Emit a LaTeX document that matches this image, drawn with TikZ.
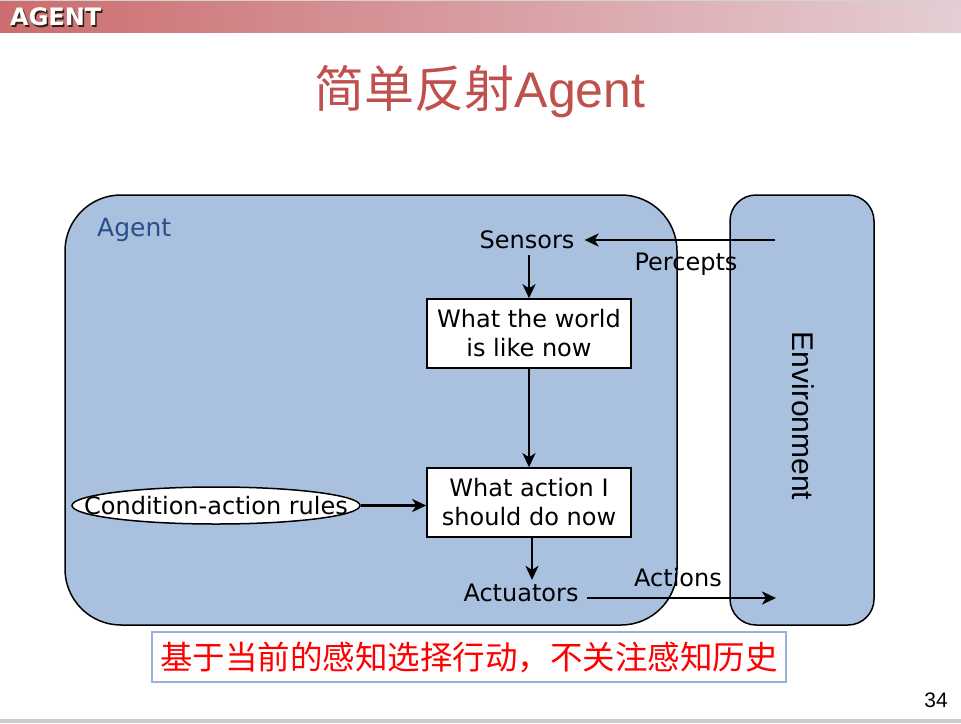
\documentclass[tikz,border=0pt]{standalone}
\usepackage{fontspec}
\usetikzlibrary{arrows.meta,shapes.geometric}
\newfontfamily\verd{DejaVu Sans}
\newfontfamily\arial{Liberation Sans}
\newfontfamily\cjk{Noto Sans CJK SC}
\definecolor{hdrL}{RGB}{204,108,110}
\definecolor{hdrR}{RGB}{228,206,212}
\definecolor{boxfill}{RGB}{169,193,223}
\definecolor{agentblue}{RGB}{42,78,140}
\definecolor{titlered}{RGB}{192,80,77}
\definecolor{notered}{RGB}{255,0,0}
\definecolor{noteframe}{RGB}{149,179,215}
\tikzset{
  label/.style={font=\verd\fontsize{24}{28}\selectfont, text=black},
  statebox/.style={draw=black, line width=1.6pt, fill=white, minimum width=204pt,
    minimum height=69pt, align=center, inner sep=0pt,
    font=\verd\fontsize{24}{29}\selectfont},
  flow/.style={-{Stealth[length=14pt,width=13pt,inset=4pt]}, line width=2.8pt},
  region/.style={draw=black, line width=1.5pt, fill=boxfill}
}
\begin{document}
\begin{tikzpicture}[x=1pt,y=-1pt]
\useasboundingbox (0,0) rectangle (961,723);
\fill[white] (0,0) rectangle (961,723);
% slide frame and header band
\fill[gray!35] (0,0) rectangle (961,1.2);
\fill[gray!40] (0,719) rectangle (961,723);
\shade[left color=hdrL, right color=hdrR] (0,1.2) rectangle (961,32);
\node[anchor=west, inner sep=0pt, text=black!75!brown, font=\verd\bfseries\fontsize{24}{26}\selectfont] (hdrshadow) at (11.5,18.5) {AGENT};
\node[anchor=west, inner sep=0pt, text=white, font=\verd\bfseries\fontsize{24}{26}\selectfont] (hdr) at (10,17) {AGENT};
% title
\node[text=titlered, inner sep=0pt, font=\fontsize{50}{56}\selectfont] (title) at (480,92) {{\cjk 简单反射}{\arial Agent}};
% agent and environment regions
\draw[region, rounded corners=56pt] (65,195) rectangle (677,625);
\draw[region, rounded corners=26pt] (730,195) rectangle (874,625);
\node[anchor=west, inner sep=0pt, text=agentblue, font=\verd\fontsize{25}{28}\selectfont] (agentlbl) at (97,230) {Agent};
\node[rotate=-90, inner sep=0pt, font=\arial\fontsize{30}{32}\selectfont] (env) at (803,416) {Environment};
% internal nodes
\node[label, inner xsep=10pt, inner ysep=6pt] (sensors) at (527,240) {Sensors};
\node[statebox] (world) at (529,333.5) {What the world\\is like now};
\node[statebox] (action) at (529,502.5) {What action I\\should do now};
\node[draw=black, line width=1.5pt, fill=white, ellipse, inner sep=0pt, minimum width=288pt, minimum height=37pt] (rules) at (216,505.5) {};
\node[label, inner sep=0pt] (rulestext) at (rules.center) {Condition-action rules};
\node[label, inner xsep=8pt, inner ysep=4pt] (actuators) at (521,593) {Actuators};
\coordinate (percin) at (775,240);
\coordinate (actout) at (776,598);
% connectors
\draw[flow] (percin) -- (sensors.east);
\draw[flow] (sensors.south -| world.north) -- (world.north);
\draw[flow] (world.south) -- (action.north);
\draw[flow] (rules.east) -- (rules.east -| action.west);
\draw[flow] ([xshift=3pt]action.south) -- ([xshift=3pt]action.south |- actuators.north);
\draw[flow] (actuators.east |- actout) -- (actout);
\node[label, anchor=north, inner sep=0pt] (percepts) at (686,253) {Percepts};
\node[label, anchor=south, inner sep=0pt] (actions) at (678,587) {Actions};
% note box
\node[draw=noteframe, line width=1.3pt, fill=white, minimum width=634pt, minimum height=50pt, inner sep=0pt, text=notered, font=\cjk\fontsize{32.5}{36}\selectfont] (note) at (469,657) {基于当前的感知选择行动，不关注感知历史};
% page number
\node[inner sep=0pt, font=\arial\fontsize{21}{23}\selectfont] (pageno) at (936,700) {34};
\end{tikzpicture}
\end{document}
